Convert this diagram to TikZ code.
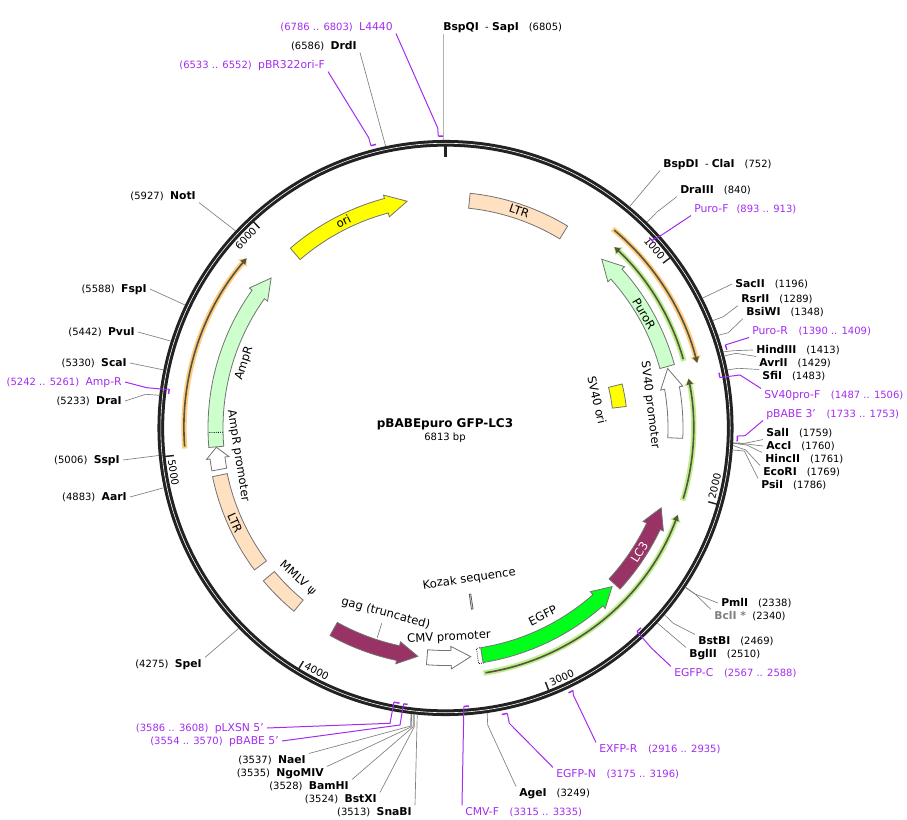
\documentclass[tikz,border=0pt]{standalone}
\usepackage{fontspec}
\setmainfont{DejaVu Sans}
\usetikzlibrary{arrows.meta, calc}

\definecolor{ringblack}{HTML}{222222}
\definecolor{primerpurple}{HTML}{A32CF0}
\definecolor{ltrpeach}{HTML}{FFE0C0}
\definecolor{palegreen}{HTML}{CCFFCC}
\definecolor{gagplum}{HTML}{993366}
\definecolor{egfpgreen}{HTML}{00FF1A}
\definecolor{oriyellow}{rgb}{1,1,0}
\definecolor{haloorange}{HTML}{FFCC80}
\definecolor{halogreen}{HTML}{BDEE8C}
\definecolor{seqdark}{HTML}{55553F}

% map position: bp and radius to a point, centre at (445.5,-428)
\newcommand{\pol}[2]{({445.5+(#2)*sin(0.05284*(#1))},{-428+(#2)*cos(0.05284*(#1))})}
\newcommand{\nam}[1]{{\fontsize{8.1}{9}\selectfont #1}}
\newcommand{\enz}[1]{{\fontsize{8.1}{9}\selectfont\bfseries #1}}
\newcommand{\pgap}{\hspace{8pt}}

\tikzset{
  every node/.style={font=\fontsize{7.5}{9}\selectfont},
  lab/.style={text height=6.5pt, text depth=1.5pt, inner xsep=2.25pt, inner ysep=0.7pt},
  labl/.style={lab, anchor=east},
  labr/.style={lab, anchor=west},
  prim/.style={text=primerpurple},
  enzline/.style={draw=black!50, line width=0.5pt},
  primline/.style={draw=primerpurple, line width=0.75pt},
  primmark/.style={draw=primerpurple, line width=1.1pt},
  feature/.style={draw=black!55, line width=0.6pt},
  featlab/.style={font=\fontsize{8.7}{10}\selectfont, inner sep=0pt},
  ticklab/.style={font=\fontsize{7.6}{9}\selectfont, inner sep=0pt},
}

% body radii of the feature arrows
\def\rIn{222.5}
\def\rOut{237.5}
\def\rMid{230}
\def\rBarbIn{218.5}
\def\rBarbOut{241}

% style, base, neck, tip (degrees clockwise from the top)
\newcommand{\featarrow}[4]{%
  \draw[feature, #1] (90-#2:\rOut) arc[start angle=90-#2, end angle=90-#3, radius=\rOut]
    -- (90-#3:\rBarbOut) -- (90-#4:\rMid) -- (90-#3:\rBarbIn) -- (90-#3:\rIn)
    arc[start angle=90-#3, end angle=90-#2, radius=\rIn] -- cycle;}
% style, from, to, inner radius, outer radius
\newcommand{\featbox}[5]{%
  \draw[feature, #1] (90-#2:#5) arc[start angle=90-#2, end angle=90-#3, radius=#5]
    -- (90-#3:#4) arc[start angle=90-#3, end angle=90-#2, radius=#4] -- cycle;}
% halo colour, from, to, radius
\newcommand{\seqarc}[4]{%
  \draw[#1, line width=4pt, -{Triangle[width=8pt, length=5pt]}] (90-#2:#4) arc[start angle=90-#2, end angle=90-#3, radius=#4];
  \draw[seqdark, line width=1.2pt, shorten <=1.5pt, -{Triangle[width=4.5pt, length=4.5pt]}] (90-#2:#4) arc[start angle=90-#2, end angle=90-#3, radius=#4];}

\begin{document}
\begin{tikzpicture}[x=0.75pt, y=0.75pt, >=Stealth]
  \useasboundingbox (0,-820) rectangle (907,0);

  % --- Backbone Ring ---
  \begin{scope}[shift={(445.5,-428)}]
    \draw[ringblack, line width=5pt] (0,0) circle [radius=284.7];
    \draw[white, line width=0.45pt] (0,0) circle [radius=284.7];
    \draw[ringblack, line width=2.2pt] (90:271) -- (90:284);
    \foreach \i/\rot in {1000/-50, 2000/77, 3000/24.5, 4000/-28, 5000/-81, 6000/46} {
      \draw[ringblack, line width=1.1pt] ({90-0.05284*\i}:273) -- ({90-0.05284*\i}:283);
      \node[ticklab, rotate=\rot] (tick\i) at ({90-0.05284*\i+3.5}:275.5) {\i};
    }

    % --- Features ---
    \featbox{fill=ltrpeach}{6}{31.15}{221}{236}
    \featbox{fill=ltrpeach}{233.4}{258.2}{223}{238}
    \featbox{fill=ltrpeach}{219.6}{230}{223.3}{237.8}
    \featbox{fill=oriyellow}{76}{83.2}{168}{182}
    \featbox{fill=white, draw=black!65}{171.35}{171.85}{168}{183}
    \featarrow{fill=oriyellow}{319.2}{345.1}{350.4}
    \featarrow{fill=palegreen}{74.5}{48}{42.8}
    \featarrow{fill=white}{92.5}{80}{75}
    \featarrow{fill=gagplum}{132.7}{115.3}{110.3}
    \featbox{fill=white, draw=black, densely dotted}{170.7}{172}{222.5}{238}
    \featarrow{fill=egfpgreen}{170.9}{138.5}{133.6}
    \featarrow{fill=white}{184.6}{178.6}{173.7}
    \featarrow{fill=gagplum}{209.1}{191.9}{186.9}
    \featarrow{fill=white}{259.6}{262.5}{265.2}
    \featarrow{fill=palegreen}{265.3}{305.5}{310.7}
    \draw[black, line width=0.6pt, densely dotted] (90-268.9:\rIn) -- (90-268.9:\rOut);

    % --- Sequencing Arcs ---
    \seqarc{haloorange}{40}{75.5}{260}
    \seqarc{halogreen}{74.3}{43}{247.5}
    \seqarc{halogreen}{107}{78.5}{248}
    \seqarc{halogreen}{171.2}{110.5}{248}
    \seqarc{haloorange}{265.5}{310.5}{261.5}
  \end{scope}

  % --- Feature Labels ---
  \node[featlab, rotate=27] (oriLab) at (343.3,-221.7) {ori};
  \node[featlab, rotate=-19] (ltrTopLab) at (519.3,-211) {LTR};
  \node[featlab, rotate=-60] (puroLab) at (644,-314) {PuroR};
  \node[featlab, rotate=-83] (svProLab) at (650,-405) {SV40 promoter};
  \node[featlab, rotate=-77] (svOriLab) at (597,-400) {SV40 ori};
  \node[featlab, rotate=58, text=white] (lcLab) at (639.3,-552.3) {LC3};
  \node[featlab, rotate=26] (egfpLab) at (542.7,-615.7) {EGFP};
  \node[featlab, rotate=8.5] (kozakLab) at (469.3,-579) {Kozak sequence};
  \node[featlab, rotate=3] (cmvLab) at (449,-637.3) {CMV promoter};
  \node[featlab, rotate=-15] (gagLab) at (385.7,-613.3) {gag (truncated)};
  \node[featlab, rotate=-42] (psiLab) at (297.7,-578.3) {MMLV ψ};
  \node[featlab, rotate=-66] (ltrLowLab) at (235,-523.3) {LTR};
  \node[featlab, rotate=-81] (ampProLab) at (238,-456) {AmpR promoter};
  \node[featlab, rotate=72] (ampLab) at (244.3,-363.3) {AmpR};
  \coordinate (gagEnd) at (377.3,-637.7);
  \draw[enzline] (gagLab) ++(-4,-10) -- (gagEnd);

  % --- Centre Title ---
  \node[inner sep=0pt, font=\fontsize{9}{10}\selectfont\bfseries] (title) at (445,-424.5) {pBABEpuro GFP-LC3};
  \node[inner sep=0pt] (size) at (445,-438) {6813 bp};

  % --- Ring Coordinates ---
  \foreach \nm/\p in {BspQI/6805, BspDI/752, DraIII/840, SacII/1196, RsrII/1289, BsiWI/1348, HindIII/1413, AvrII/1429,
    SfiI/1483, SalI/1759, AccI/1760, HincII/1761, EcoRI/1769, PsiI/1786, PmlI/2338, BclI/2340, BstBI/2469, BglII/2510,
    AgeI/3249, SnaBI/3513, BstXI/3524, BamHI/3528, NgoMIV/3535, NaeI/3537, SpeI/4275, AarI/4883, SspI/5006, DraI/5233,
    ScaI/5330, PvuI/5442, FspI/5588, NotI/5927, DrdI/6586} {
    \path \pol{\p}{288} coordinate (r\nm);
  }

  % --- Primer Marks ---
  \foreach \nm/\a/\b/\r/\e in {LFour/6786/6803/292/6786, pBRori/6533/6552/292/6533, PuroF/893/913/279/903,
    PuroR/1390/1409/292/1390, SVproF/1487/1506/279/1506, pBABEthree/1733/1753/292/1733, EGFPC/2567/2588/279.5/2588,
    EXFPR/2916/2935/292/2916, EGFPN/3175/3196/292/3175, CMVF/3315/3335/279/3335, pBABEfive/3554/3570/279/3570,
    pLXSN/3586/3608/279/3608, AmpR/5242/5261/279/5261} {
    \draw[primmark] \pol{\a}{\r} arc[start angle={90-0.05284*\a}, end angle={90-0.05284*\b}, radius=\r];
    \path \pol{\e}{\r} coordinate (m\nm);
  }

  % --- Top Labels ---
  \node[labl, prim] (lLFour) at (396,-27) {(6786 .. 6803)~~\nam{L4440}};
  \node[labl] (lDrdI) at (360,-46) {(6586)~~\enz{DrdI}};
  \node[labl, prim] (lpBRori) at (328,-65) {(6533 .. 6552)~~\nam{pBR322ori-F}};
  \node[labr] (lBspQI) at (440,-27) {\enz{BspQI}~~-~\enz{SapI}\quad(6805)};
  \draw[primline] (lLFour.south east) -- (437.7,-128) -- (mLFour);
  \draw[enzline] (lDrdI.south east) -- (rDrdI);
  \draw[primline] (lpBRori.south east) -- (368.7,-137.7) -- (mpBRori);
  \draw[draw=black!30, line width=1.1pt] (lBspQI.south west -| rBspQI) -- (rBspQI);

  % --- Right Labels ---
  \node[labr] (lBspDI) at (660,-164) {\enz{BspDI}~~-~\enz{ClaI}\quad(752)};
  \node[labr] (lDraIII) at (677,-190) {\enz{DraIII}\quad(840)};
  \node[labr, prim] (lPuroF) at (691,-209) {\nam{Puro-F}\hspace{6pt}(893 .. 913)};
  \node[labr] (lSacII) at (732,-284) {\enz{SacII}\quad(1196)};
  \node[labr] (lRsrII) at (738,-299) {\enz{RsrII}\quad(1289)};
  \node[labr] (lBsiWI) at (743,-312) {\enz{BsiWI}\quad(1348)};
  \node[labr, prim] (lPuroR) at (749,-331) {\nam{Puro-R}\pgap(1390 .. 1409)};
  \node[labr] (lHindIII) at (753,-350) {\enz{HindIII}\quad(1413)};
  \node[labr] (lAvrII) at (756,-363) {\enz{AvrII}\quad(1429)};
  \node[labr] (lSfiI) at (759,-376) {\enz{SfiI}\quad(1483)};
  \node[labr, prim] (lSVproF) at (761,-395) {\nam{SV40pro-F}\pgap(1487 .. 1506)};
  \node[labr, prim] (lpBABEthree) at (763,-414) {\nam{pBABE 3'}\pgap(1733 .. 1753)};
  \node[labr] (lSalI) at (763,-433) {\enz{SalI}\quad(1759)};
  \node[labr] (lAccI) at (763,-446) {\enz{AccI}\quad(1760)};
  \node[labr] (lHincII) at (762,-459) {\enz{HincII}\quad(1761)};
  \node[labr] (lEcoRI) at (760,-472) {\enz{EcoRI}\quad(1769)};
  \node[labr] (lPsiI) at (758,-485) {\enz{PsiI}\quad(1786)};
  \draw[enzline] (lBspDI.south west) -- (rBspDI);
  \draw[enzline] (lDraIII.south west) -- (657,-212) -- (rDraIII);
  \draw[primline] (lPuroF.south west) -- (661.7,-235) -- (mPuroF);
  \draw[enzline] (lSacII.west) -- (rSacII);
  \draw[enzline] (lRsrII.south west) -- (723.3,-316.7) -- (rRsrII);
  \draw[enzline] (lBsiWI.south west) -- (728.3,-332.7) -- (rBsiWI);
  \draw[primline] (lPuroR.south west) -- (728.3,-344) -- (mPuroR);
  \draw[enzline] (lHindIII.west) -- (733.3,-350.7) -- (rHindIII);
  \draw[enzline] (lAvrII.north west) -- (736,-353.3) -- (rAvrII);
  \draw[enzline] (lSfiI.north west) -- (738.3,-368.3) -- (rSfiI);
  \draw[primline] (lSVproF.north west) -- (740,-375) -- (mSVproF);
  \draw[primline] (lpBABEthree.south west) -- (745,-435.7) -- (mpBABEthree);
  \draw[enzline] (lSalI.south west) -- (745,-443.3) -- (rSalI);
  \draw[enzline] (lAccI.west) -- (746.7,-444) -- (rAccI);
  \draw[enzline] (lHincII.north west) -- (746.7,-445) -- (rHincII);
  \draw[enzline] (lEcoRI.north west) -- (745.7,-450) -- (rEcoRI);
  \draw[enzline] (lPsiI.north west) -- (744.3,-451) -- (rPsiI);

  % --- Lower Right Labels ---
  \node[labr] (lPmlI) at (718,-603) {\enz{PmlI}\quad(2338)};
  \node[labr] (lBclI) at (711,-616) {\enz{\textcolor{black!50}{BclI *}}~~(2340)};
  \node[labr] (lBstBI) at (695,-641) {\enz{BstBI}\quad(2469)};
  \node[labr] (lBglII) at (686,-654) {\enz{BglII}\quad(2510)};
  \node[labr, prim] (lEGFPC) at (671,-673) {\nam{EGFP-C}\pgap(2567 .. 2588)};
  \node[labr, prim] (lEXFPR) at (596,-749) {\nam{EXFP-R}\pgap(2916 .. 2935)};
  \node[labr, prim] (lEGFPN) at (553,-774) {\nam{EGFP-N}\pgap(3175 .. 3196)};
  \node[labr] (lAgeI) at (516,-793) {\enz{AgeI}\quad(3249)};
  \node[labr, prim] (lCMVF) at (462,-812) {\nam{CMV-F}\pgap(3315 .. 3335)};
  \draw[enzline] (lPmlI.west) -- (695,-594) -- (rPmlI);
  \draw[enzline] (lBclI.north west) -- (695,-594) -- (rBclI);
  \draw[enzline] (lBstBI.north west) -- (673.3,-623.3) -- (rBstBI);
  \draw[enzline] (lBglII.north west) -- (rBglII);
  \draw[primline] (lEGFPC.north west) -- (651.7,-648.3) -- (mEGFPC);
  \draw[primline] (lEXFPR.north west) -- (573.3,-695) -- (mEXFPR);
  \draw[primline] (lEGFPN.north west) -- (509.3,-723.3) -- (mEGFPN);
  \draw[enzline] (lAgeI.north west) -- (487.7,-725) -- (rAgeI);
  \draw[primline] (lCMVF.north west) -- (mCMVF);

  % --- Bottom Left Labels ---
  \node[labl] (lSnaBI) at (415,-812) {(3513)~~\enz{SnaBI}};
  \node[labl] (lBstXI) at (380,-799) {(3524)~~\enz{BstXI}};
  \node[labl] (lBamHI) at (352,-786) {(3528)~~\enz{BamHI}};
  \node[labl] (lNgoMIV) at (327,-773) {(3535)~~\enz{NgoMIV}};
  \node[labl] (lNaeI) at (309,-760) {(3537)~~\enz{NaeI}};
  \node[labl, prim] (lpBABEfive) at (282,-741) {(3554 .. 3570)~~\nam{pBABE 5'}};
  \node[labl, prim] (lpLXSN) at (267,-728) {(3586 .. 3608)~~\nam{pLXSN 5'}};
  \draw[enzline] (lSnaBI.north east) -- (rSnaBI);
  \draw[enzline] (lBstXI.north east) -- (414.3,-726.7) -- (rBstXI);
  \draw[enzline] (lBamHI.north east) -- (413.3,-726.7) -- (rBamHI);
  \draw[enzline] (lNgoMIV.north east) -- (411.7,-726.7) -- (rNgoMIV);
  \draw[enzline] (lNaeI.north east) -- (410.7,-726) -- (rNaeI);
  \draw[primline] (lpBABEfive.east) -- (400,-725) -- (mpBABEfive);
  \draw[primline] (lpLXSN.east) -- (390,-723.3) -- (mpLXSN);

  % --- Left Labels ---
  \node[labl] (lSpeI) at (205,-664) {(4275)~~\enz{SpeI}};
  \node[labl] (lAarI) at (130,-497) {(4883)~~\enz{AarI}};
  \node[labl] (lSspI) at (123,-460) {(5006)~~\enz{SspI}};
  \node[labl] (lDraI) at (125,-401) {(5233)~~\enz{DraI}};
  \node[labl, prim] (lAmpR) at (125,-382) {(5242 .. 5261)~~\nam{Amp-R}};
  \node[labl] (lScaI) at (130,-363) {(5330)~~\enz{ScaI}};
  \node[labl] (lPvuI) at (138,-332) {(5442)~~\enz{PvuI}};
  \node[labl] (lFspI) at (150,-289) {(5588)~~\enz{FspI}};
  \node[labl] (lNotI) at (199,-196) {(5927)~~\enz{NotI}};
  \draw[enzline] (lSpeI.north east) -- (rSpeI);
  \draw[enzline] (lAarI.east) -- (rAarI);
  \draw[enzline] (lSspI.east) -- (rSspI);
  \draw[enzline] (lDraI.east) -- (145.7,-394.3) -- (rDraI);
  \draw[primline] (lAmpR.east) -- (146.7,-387.7) -- (165,-389.3) -- (mAmpR);
  \draw[enzline] (lScaI.east) -- (rScaI);
  \draw[enzline] (lPvuI.east) -- (rPvuI);
  \draw[enzline] (lFspI.east) -- (rFspI);
  \draw[enzline] (lNotI.south east) -- (rNotI);

\end{tikzpicture}
\end{document}
